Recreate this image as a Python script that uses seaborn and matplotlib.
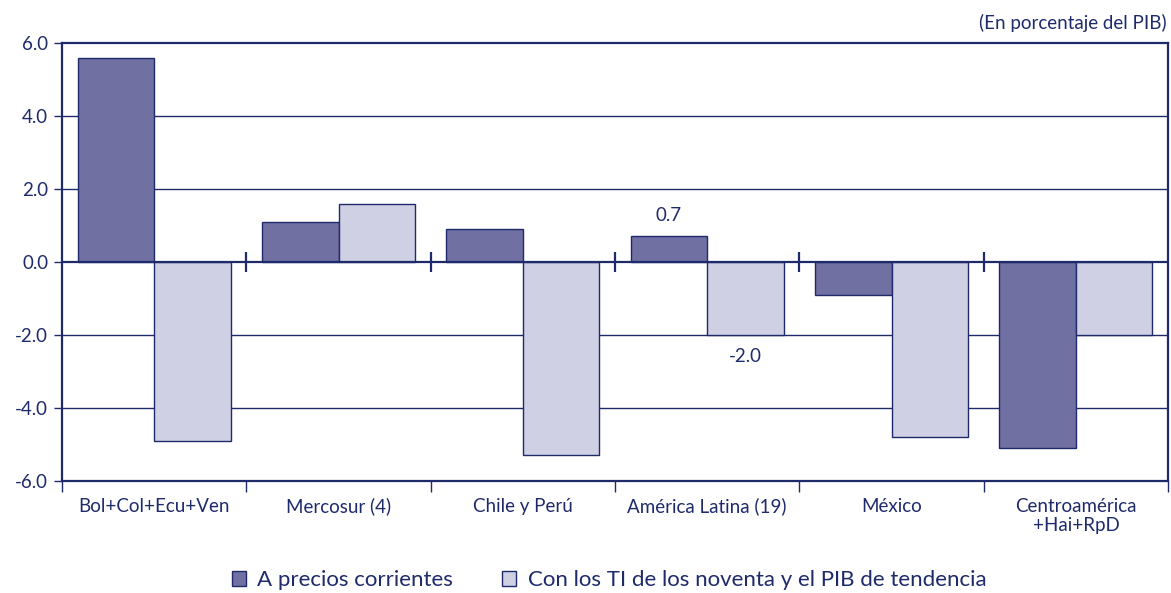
import numpy as np
import pandas as pd
import matplotlib
matplotlib.use("Agg")
import matplotlib.pyplot as plt
import seaborn as sns

categories = ["Bol+Col+Ecu+Ven", "Mercosur (4)", "Chile y Perú",
              "América Latina (19)", "México", "Centroamérica\n+Hai+RpD"]
corrientes = [5.6, 1.1, 0.9, 0.7, -0.9, -5.1]
tendencia = [-4.9, 1.6, -5.3, -2.0, -4.8, -2.0]
series_names = ["A precios corrientes",
                "Con los TI de los noventa y el PIB de tendencia"]
y_ticks = [-6, -4, -2, 0, 2, 4, 6]

navy = "#1f2a6b"
colors = ["#7070a2", "#cfd0e3"]

df = pd.DataFrame({
    "cat": categories * 2,
    "serie": [series_names[0]] * len(categories) + [series_names[1]] * len(categories),
    "valor": corrientes + tendencia,
})

sns.set_style("white")
plt.rcParams["font.family"] = ["Lato", "DejaVu Sans"]

fig = plt.figure(figsize=(11.71, 5.93), dpi=100)
ax = fig.add_axes([0.053, 0.189, 0.9445, 0.7385])

for y in y_ticks:
    if y not in (-6, 0, 6):
        ax.axhline(y, color=navy, lw=1.0, zorder=0)

sns.barplot(data=df, x="cat", y="valor", hue="serie", palette=colors,
            saturation=1, width=0.83, edgecolor=navy, linewidth=1.0, ax=ax,
            legend=True, zorder=2)

ax.axhline(0, color=navy, lw=1.6, zorder=3)

n = len(categories)
ax.set_xlim(-0.5, n - 0.5)
ax.set_ylim(-6, 6)
ax.set_yticks(y_ticks)
ax.set_yticklabels([f"{v:.1f}" for v in y_ticks], fontsize=13.5, color=navy)
ax.set_xticks(range(n))
ax.set_xticklabels(categories, fontsize=13.5, color=navy, linespacing=1.15)
ax.tick_params(axis="x", length=0, pad=12)
ax.tick_params(axis="y", length=6, width=1, color=navy, direction="out", pad=4, left=True)

bounds = np.arange(n + 1) - 0.5
ax.set_xticks(bounds, minor=True)
ax.tick_params(axis="x", which="minor", length=8, width=1, color=navy, direction="out", bottom=True)
# separators on the zero line
ax.plot(bounds[1:-1], [0] * (n - 1), ls="none", marker="|", ms=15, mew=1.6,
        color=navy, zorder=4)

for s in ax.spines.values():
    s.set_color(navy)
    s.set_linewidth(1.6)

ax.set_xlabel("")
ax.set_ylabel("")

# labels for América Latina
i = categories.index("América Latina (19)")
ax.text(i - 0.2075, corrientes[i] + 0.35, f"{corrientes[i]:.1f}", ha="center",
        va="bottom", fontsize=13.5, color=navy)
ax.text(i + 0.2075, tendencia[i] - 0.35, f"{tendencia[i]:.1f}", ha="center",
        va="top", fontsize=13.5, color=navy)

fig.text(0.996, 0.962, "(En porcentaje del PIB)", ha="right", va="center",
         fontsize=13.5, color=navy)

handles, labels = ax.get_legend_handles_labels()
ax.legend_.remove()
leg = fig.legend(handles, labels, loc="center", bbox_to_anchor=(0.52, 0.022),
                 ncol=2, frameon=False, fontsize=16, handlelength=0.65,
                 handleheight=0.65, handletextpad=0.5, columnspacing=2.2)
for t in leg.get_texts():
    t.set_color(navy)

fig.savefig("out.png", dpi=100)
